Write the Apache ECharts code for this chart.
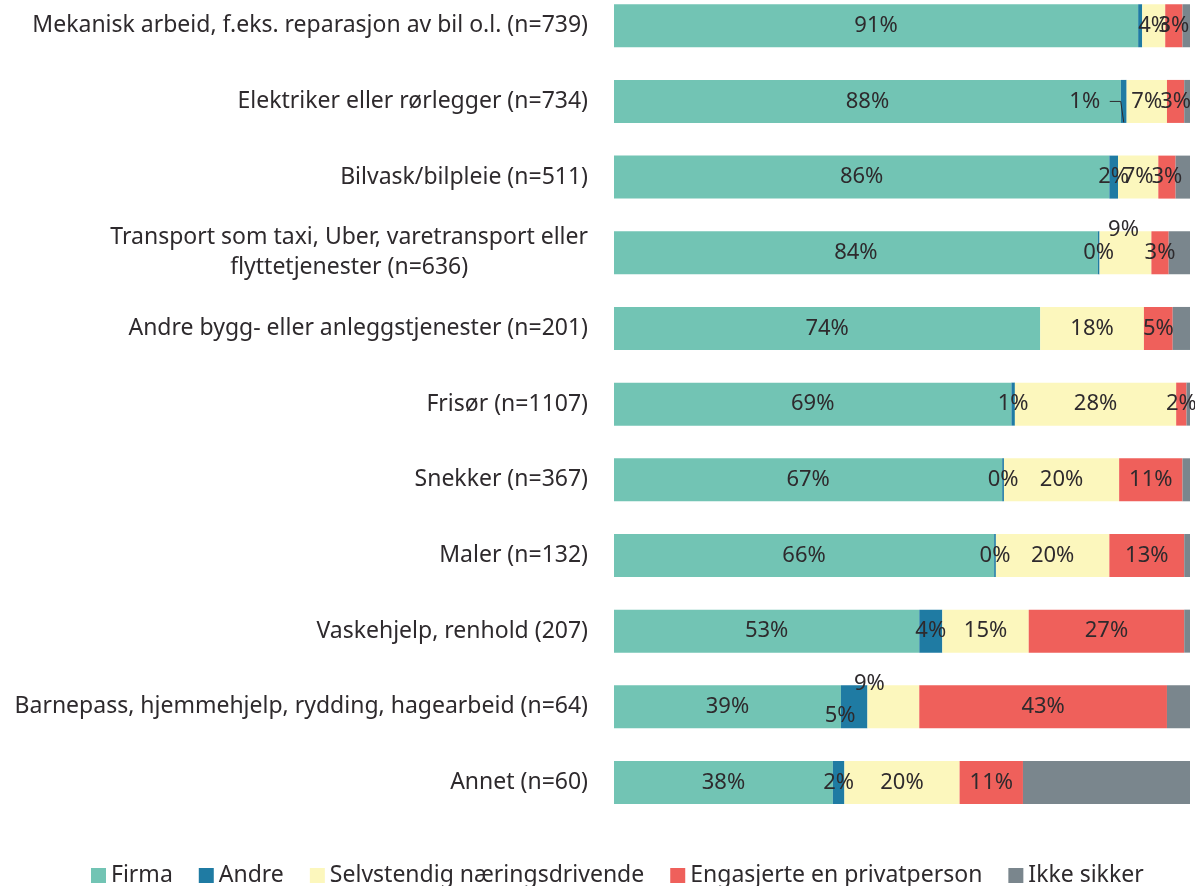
<!DOCTYPE html>
<html lang="no">
<head>
  <meta charset="utf-8">
  <title>Hvem utførte tjenesten</title>
  <script src="https://cdn.jsdelivr.net/npm/echarts@6/dist/echarts.min.js"></script>
  <style>
    html, body { margin: 0; padding: 0; background: #fff; }
    #chart { width: 1195px; height: 886px; }
  </style>
</head>
<body>
<div id="chart"></div>
<script>
  // categories, top to bottom
  const categories = [
    'Mekanisk arbeid, f.eks. reparasjon av bil o.l. (n=739)',
    'Elektriker eller rørlegger (n=734)',
    'Bilvask/bilpleie (n=511)',
    'Transport som taxi, Uber, varetransport eller\nflyttetjenester (n=636)',
    'Andre bygg- eller anleggstjenester (n=201)',
    'Frisør (n=1107)',
    'Snekker (n=367)',
    'Maler (n=132)',
    'Vaskehjelp, renhold (207)',
    'Barnepass, hjemmehjelp, rydding, hagearbeid (n=64)',
    'Annet (n=60)'
  ];

  const seriesNames = ['Firma', 'Andre', 'Selvstendig næringsdrivende', 'Engasjerte en privatperson', 'Ikke sikker'];

  const firma       = [91, 88, 86, 84, 74, 69, 67.4, 66, 53, 39.4, 38];
  const andre       = [0.7, 1, 1.5, 0.3, 0, 0.6, 0.3, 0.3, 4, 4.6, 2];
  const selvstendig = [4, 7, 7, 9, 18, 28, 20, 19.7, 15, 9, 20];
  const engasjerte  = [3, 3, 3, 3, 5, 1.8, 11, 13, 27, 43, 11];
  const ikkeSikker  = [1.3, 1, 2.5, 3.7, 3, 0.6, 1.3, 1, 1, 4, 29];

  const colors = ['#72c4b4', '#1f7ba3', '#fcf7bd', '#ef605b', '#7a868d'];
  const textColor = '#2e2a2d';
  const font = '"Noto Sans", "Open Sans", sans-serif';

  // labels moved away from their segment: 'series-row' -> [dx, dy]
  const labelMoves = {
    '1-1': [-39, 0],
    '2-3': [-2, -23],
    '1-9': [-14, 9],
    '2-9': [-24, -23]
  };
  const hiddenLabels = { '1-0': true };

  function buildData(values, si) {
    return values.map(function (v, i) {
      const item = { value: v };
      if (hiddenLabels[si + '-' + i]) item.label = { show: false };
      return item;
    });
  }

  const allValues = [firma, andre, selvstendig, engasjerte, ikkeSikker];

  const chart = echarts.init(document.getElementById('chart'));

  const option = {
    animation: false,
    textStyle: { fontFamily: font },
    grid: { left: 614, right: 5, top: 25.75, bottom: 103.5 },
    legend: {
      data: seriesNames,
      top: 859,
      left: 86,
      icon: 'rect',
      itemWidth: 15,
      itemHeight: 15,
      itemGap: 26,
      textStyle: { fontSize: 23, color: textColor, fontFamily: font }
    },
    xAxis: {
      type: 'value',
      min: 0,
      max: 100,
      show: false
    },
    yAxis: {
      type: 'category',
      inverse: true,
      boundaryGap: false,
      data: categories,
      axisLine: { show: false },
      axisTick: { show: false },
      splitLine: { show: false },
      axisLabel: {
        margin: 26,
        fontSize: 23,
        color: textColor,
        fontFamily: font,
        lineHeight: 30,
        formatter: function (v) {
          if (v.indexOf('\n') >= 0) {
            return v.split('\n').map(function (s) { return '{c|' + s + '}'; }).join('\n');
          }
          return v;
        },
        rich: {
          c: { align: 'center', fontSize: 23, color: textColor, fontFamily: font, lineHeight: 30 }
        }
      }
    },
    series: allValues.map(function (vals, si) {
      return {
        name: seriesNames[si],
        type: 'bar',
        stack: 'total',
        barWidth: 43,
        itemStyle: { color: colors[si] },
        label: {
          show: si !== 4,
          position: 'inside',
          fontSize: 22,
          color: textColor,
          fontFamily: font,
          formatter: function (p) {
            return p.value > 0 ? Math.round(p.value) + '%' : '';
          }
        },
        labelLayout: function (params) {
          const mv = labelMoves[si + '-' + params.dataIndex];
          return mv ? { dx: mv[0], dy: mv[1] } : {};
        },
        data: buildData(vals, si)
      };
    })
  };

  chart.setOption(option);

  // leader line from the moved "1%" label back to its thin segment (Elektriker row)
  const row = 1;
  const p = chart.convertToPixel({ gridIndex: 0 }, [firma[row] + andre[row] / 2, row]);
  chart.setOption({
    graphic: [{
      type: 'polyline',
      shape: { points: [[p[0] - 14, p[1]], [p[0] - 3, p[1]], [p[0], p[1] + 21]] },
      style: { stroke: textColor, lineWidth: 1, fill: null },
      z: 10
    }]
  });
</script>
</body>
</html>
